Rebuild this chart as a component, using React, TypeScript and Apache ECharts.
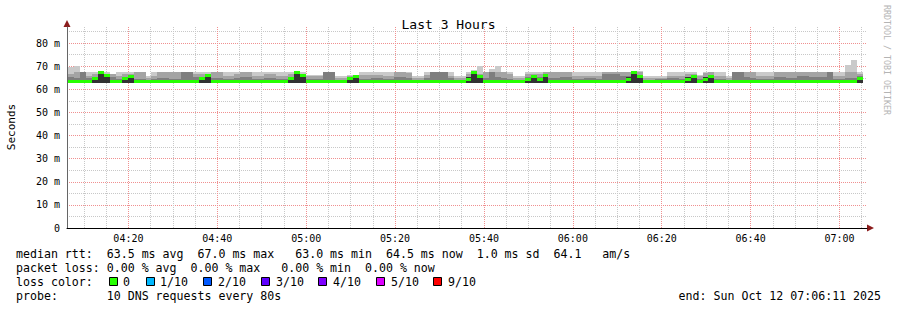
import React, { useEffect, useRef } from 'react';
import * as echarts from 'echarts';

// time window (seconds since midnight): 04:06:11 .. 07:06:11
const START = 4 * 3600 + 6 * 60 + 11;
const END = START + 3 * 3600;
const STEP = 80; // probe step
const FIRST = START + 20; // first sample start
const SMOKE_LO = 62.9; // ms, bottom of the smoke

const majorTimeLabels = ['04:20', '04:40', '05:00', '05:20', '05:40', '06:00', '06:20', '06:40', '07:00'];
const minorTimeLabels = ['04:10', '04:15', '04:25', '04:30', '04:35', '04:45', '04:50', '04:55', '05:05', '05:10', '05:15', '05:25', '05:30', '05:35', '05:45', '05:50', '05:55', '06:05', '06:10', '06:15', '06:25', '06:30', '06:35', '06:45', '06:50', '06:55', '07:05'];
const yMajor = [0, 10, 20, 30, 40, 50, 60, 70, 80];
const yMinor = [5, 15, 25, 35, 45, 55, 65, 75, 85];

// median rtt (ms) per step
const median = [
  63.6, 63.6, 63.6, 63.6, 64.6, 67.2, 65.9, 63.6, 63.6, 64.6,
  65.5, 63.6, 63.6, 63.6, 63.6, 63.6, 63.6, 63.6, 63.6, 63.6,
  63.6, 63.6, 64.6, 65.9, 63.6, 63.6, 63.6, 63.6, 63.6, 63.6,
  63.6, 63.6, 63.6, 63.6, 63.6, 63.6, 63.6, 64.6, 67.2, 65.9,
  63.6, 63.6, 63.6, 63.6, 63.6, 63.6, 63.6, 64.6, 65.5, 63.6,
  63.6, 63.6, 63.6, 63.6, 63.6, 63.6, 63.6, 63.6, 63.6, 63.6,
  63.6, 63.6, 63.6, 63.6, 63.6, 63.6, 63.6, 64.4, 67.2, 65.5,
  63.6, 63.6, 63.6, 63.6, 63.6, 63.6, 63.6, 64.4, 65.5, 64.4,
  65.9, 63.6, 63.6, 63.6, 63.6, 63.6, 63.6, 63.6, 63.6, 63.6,
  63.6, 63.6, 63.6, 63.6, 64.4, 67.2, 65.5, 63.6, 63.6, 63.6,
  63.6, 63.6, 63.6, 63.6, 64.4, 65.5, 63.6, 64.4, 65.5, 63.6,
  63.6, 63.6, 63.6, 63.6, 63.6, 63.6, 63.6, 63.6, 63.6, 63.6,
  63.6, 63.6, 63.6, 63.6, 63.6, 63.6, 63.6, 63.6, 63.6, 63.6,
  63.6, 63.6, 63.6, 64.6,
];

// outer smoke (max ping)
const smokeMax = [
  69.6, 70.3, 67.5, 67.5, 67.5, 67.5, 67.5, 66.5, 67.5, 67.5,
  67.5, 67.5, 67.5, 65.8, 67.5, 67.5, 67.5, 67.5, 67.5, 67.5,
  67.5, 67.5, 67.5, 67.5, 67.5, 67.5, 67.5, 67.5, 67.5, 67.5,
  67.5, 67.5, 67.5, 67.5, 67.5, 67.5, 67.5, 67.5, 67.5, 67.5,
  66.3, 66.3, 66.3, 67.5, 67.5, 65.8, 65.8, 66.3, 66.3, 67.5,
  67.5, 67.5, 67.5, 67.5, 67.5, 67.5, 67.5, 67.5, 65.8, 65.8,
  67.5, 67.5, 67.5, 67.5, 67.5, 65.8, 65.8, 67.5, 68.5, 70.3,
  67.5, 69.0, 70.3, 67.5, 67.5, 65.8, 65.8, 67.5, 67.5, 67.5,
  67.5, 67.5, 67.5, 67.5, 67.5, 67.5, 67.5, 67.5, 67.5, 67.5,
  67.5, 67.5, 67.5, 67.5, 67.5, 68.0, 68.0, 65.8, 65.8, 65.8,
  65.8, 67.5, 67.5, 67.5, 67.5, 67.5, 66.3, 67.5, 67.5, 67.5,
  67.5, 65.8, 67.5, 67.5, 67.5, 67.5, 67.5, 67.5, 67.5, 67.5,
  67.5, 67.5, 67.5, 67.5, 67.5, 67.5, 67.5, 67.5, 67.5, 67.5,
  67.5, 70.5, 72.8, 67.5,
];

// second smoke layer
const smoke2 = [
  66.5, 67.5, 67.5, 66, 66.5, 66.5, 66.5, 66.5, 66, 66.5,
  66.5, 67.5, 67.5, 65, 66, 67.5, 67.5, 67.5, 67.5, 67.5,
  67.5, 66.5, 66.5, 66.5, 67.5, 67.5, 66, 66, 66.5, 67.5,
  67.5, 66, 66, 66.5, 66.5, 66, 66, 66.5, 66.5, 66.5,
  65.7, 65.7, 65.7, 67.5, 67.5, 65, 65, 65.7, 65.7, 66.3,
  66.3, 66.3, 66.3, 66, 66, 67.5, 67.5, 67, 65, 65,
  66.3, 67.5, 67.5, 67.5, 66, 65, 65, 66.5, 66.5, 66.5,
  67.5, 67.5, 67.5, 67.5, 66.5, 65, 65, 66.5, 66.5, 66.5,
  67.5, 67.5, 67.5, 67.5, 67.5, 66, 66, 66, 66, 66,
  67.5, 67.5, 67.5, 67.5, 67.5, 66.5, 67.5, 65, 65, 65,
  65, 66, 66, 66, 66.5, 66.5, 65.7, 67, 67.5, 66,
  66, 65, 67.5, 67.5, 67.5, 67.5, 66, 66, 66, 67.5,
  67.5, 67.5, 67.5, 67.5, 67.5, 67.5, 67.5, 67.5, 67.5, 66,
  66, 67.5, 67.5, 66.5,
];

// third smoke layer
const smoke3 = [
  65.5, 65, 67.5, 65, 65.5, 65.5, 65.5, 65.5, 64.5, 65,
  65, 64.5, 64.5, 64, 64.5, 65, 65, 64.5, 64.5, 67.5,
  67.5, 65.5, 65.5, 65.5, 65, 65, 64.5, 64.5, 65, 65.5,
  65.5, 64.5, 64.5, 65, 65, 64.5, 64.5, 65.5, 65.5, 65.5,
  64.5, 64.5, 64.5, 67.5, 67.5, 64, 64, 65, 65, 64.5,
  64.5, 65, 65, 64.5, 64.5, 65.5, 65.5, 65, 64, 64,
  65, 67.5, 67.5, 67.5, 65, 64, 64, 65.5, 66, 66,
  65, 67.5, 65.5, 65, 64.5, 64, 64, 65.5, 65.5, 65.5,
  65.5, 65, 65, 65.5, 65.5, 64.5, 64.5, 65, 65, 64.5,
  66.5, 66.5, 66.5, 66, 66, 66, 66, 64, 64, 64.5,
  64.5, 65, 65, 64.5, 65.5, 65.5, 64.5, 65.5, 65.5, 64.5,
  64.5, 64, 67.5, 67.5, 65.5, 65, 64.5, 64.5, 64.5, 65.5,
  65.5, 65, 65, 66, 66, 65.5, 65.5, 65.5, 67.5, 64.5,
  64.5, 65, 65, 66,
];

// dense core of the smoke (0 = none)
const smokeCore = [
  0, 0, 0, 0, 65.5, 66.5, 66.5, 0, 0, 65.5,
  65.5, 0, 0, 0, 0, 0, 0, 0, 0, 0,
  0, 0, 65, 65.5, 0, 0, 0, 0, 0, 0,
  0, 0, 0, 0, 0, 0, 0, 65.5, 66.5, 66.5,
  0, 0, 0, 0, 0, 0, 0, 65, 65.5, 0,
  0, 0, 0, 0, 0, 0, 0, 0, 0, 0,
  0, 0, 0, 0, 0, 0, 0, 65.5, 66.5, 66,
  0, 0, 0, 0, 0, 0, 0, 65, 65.5, 65,
  65.5, 0, 0, 0, 0, 0, 0, 0, 0, 0,
  0, 0, 0, 0, 65.5, 66.5, 66, 0, 0, 0,
  0, 0, 0, 0, 65.5, 66, 0, 65.5, 66, 0,
  0, 0, 0, 0, 0, 0, 0, 0, 0, 0,
  0, 0, 0, 0, 0, 0, 0, 0, 0, 0,
  0, 0, 0, 65,
];

const lossLabels = ['0', '1/10', '2/10', '3/10', '4/10', '5/10', '9/10'];
const lossColors = ['#26ff00', '#00b8ff', '#0059ff', '#5e00ff', '#7e00ff', '#dd00ff', '#ff0000'];

const statsLine1 = 'median rtt:  63.5 ms avg  67.0 ms max   63.0 ms min  64.5 ms now  1.0 ms sd  64.1   am/s';
const statsLine2 = 'packet loss: 0.00 % avg  0.00 % max   0.00 % min  0.00 % now';
const probeLine = 'probe:       10 DNS requests every 80s';
const endLine = 'end: Sun Oct 12 07:06:11 2025';

const MONO = '"DejaVu Sans Mono", monospace';

const toSec = (s: string) => {
  const [h, m] = s.split(':').map(Number);
  return h * 3600 + m * 60;
};
const fmtTime = (v: number) => {
  const h = Math.floor(v / 3600);
  const m = Math.round((v - h * 3600) / 60);
  return `${String(h).padStart(2, '0')}:${String(m).padStart(2, '0')}`;
};

export default function App() {
  const ref = useRef<HTMLDivElement>(null);
  useEffect(() => {
    if (!ref.current) return;
    const chart = echarts.init(ref.current, null, { renderer: 'svg' });
    const data = median.map((m, i) => [
      FIRST + i * STEP, SMOKE_LO, smokeMax[i], smoke2[i], smoke3[i], smokeCore[i], m,
    ]);
    const smokeColors = ['#cacaca', '#a4a4a4', '#7e7e7e', '#323232'];

    const legendFont = `11.6px ${MONO}`;
    const graphic: any[] = [
      { type: 'polygon', shape: { points: [[867, 224.5], [874, 228], [867, 231.5]] }, style: { fill: '#8b1c1c' }, silent: true },
      { type: 'polygon', shape: { points: [[63.5, 27], [67, 20], [70.5, 27]] }, style: { fill: '#8b1c1c' }, silent: true },
      { type: 'text', x: 11, y: 127, rotation: Math.PI / 2, style: { text: 'Seconds', font: `11px ${MONO}`, fill: '#000', align: 'center', verticalAlign: 'middle' }, silent: true },
      { type: 'text', x: 886.5, y: 5, rotation: -Math.PI / 2, style: { text: 'RRDTOOL / TOBI OETIKER', font: `8.3px ${MONO}`, fill: '#b4b4b4', align: 'left', verticalAlign: 'middle' }, silent: true },
      { type: 'text', x: 16, y: 254, style: { text: statsLine1, font: legendFont, fill: '#000', align: 'left', verticalAlign: 'middle' }, silent: true },
      { type: 'text', x: 16, y: 268, style: { text: statsLine2, font: legendFont, fill: '#000', align: 'left', verticalAlign: 'middle' }, silent: true },
      { type: 'text', x: 16, y: 282, style: { text: 'loss color:', font: legendFont, fill: '#000', align: 'left', verticalAlign: 'middle' }, silent: true },
      { type: 'text', x: 16, y: 296, style: { text: probeLine, font: legendFont, fill: '#000', align: 'left', verticalAlign: 'middle' }, silent: true },
      { type: 'text', x: 881, y: 296, style: { text: endLine, font: legendFont, fill: '#000', align: 'right', verticalAlign: 'middle' }, silent: true },
    ];
    const boxX = [109, 146, 203, 261, 318, 376, 433];
    const textX = [123, 160, 218, 276, 333, 391, 448];
    lossLabels.forEach((lab, i) => {
      graphic.push({ type: 'rect', shape: { x: boxX[i] + 0.5, y: 277.5, width: 8, height: 8 }, style: { fill: lossColors[i], stroke: '#000', lineWidth: 1 }, silent: true });
      graphic.push({ type: 'text', x: textX[i], y: 282, style: { text: lab, font: legendFont, fill: '#000', align: 'left', verticalAlign: 'middle' }, silent: true });
    });

    const majorX = majorTimeLabels.map(toSec);
    const minorX = minorTimeLabels.map(toSec);

    chart.setOption({
      animation: false,
      backgroundColor: '#ffffff',
      title: {
        text: 'Last 3 Hours', left: 'center', top: 13,
        textStyle: { fontFamily: MONO, fontSize: 13, fontWeight: 'normal', color: '#000' },
      },
      grid: { left: 67, right: 30, top: 27, bottom: 82, containLabel: false, outerBoundsMode: 'none' },
      xAxis: [
        {
          type: 'value', min: START, max: END, position: 'bottom',
          axisLine: { show: true, lineStyle: { color: '#000', width: 1 } },
          axisTick: { show: false, customValues: majorX },
          axisLabel: { show: true, customValues: majorX, formatter: (v: number) => fmtTime(v), fontFamily: MONO, fontSize: 10, color: '#000', margin: 5 },
          splitLine: { show: true, lineStyle: { color: '#f09090', type: [1, 1], width: 1 } },
        },
        {
          type: 'value', min: START, max: END, position: 'bottom', offset: 0,
          axisLine: { show: false }, axisLabel: { show: false },
          axisTick: { show: false, customValues: minorX },
          splitLine: { show: true, lineStyle: { color: '#c8c8c8', type: [1, 1], width: 1 } },
        },
      ],
      yAxis: [
        {
          type: 'value', min: 0, max: 87,
          axisLine: { show: true, lineStyle: { color: '#666', width: 1 } },
          axisTick: { show: false, customValues: yMajor },
          axisLabel: { show: true, customValues: yMajor, formatter: (v: number) => (v === 0 ? '0' : `${v} m`), fontFamily: MONO, fontSize: 10, color: '#000', margin: 7 },
          splitLine: { show: true, lineStyle: { color: '#f09090', type: [1, 1], width: 1 } },
        },
        {
          type: 'value', min: 0, max: 87, position: 'left', offset: 0,
          axisLine: { show: false }, axisLabel: { show: false },
          axisTick: { show: false, customValues: yMinor },
          splitLine: { show: true, lineStyle: { color: '#c8c8c8', type: [1, 1], width: 1 } },
        },
      ],
      series: [
        {
          type: 'custom', xAxisIndex: 0, yAxisIndex: 0, silent: true,
          encode: { x: 0, y: 1 },
          data,
          renderItem: (params: any, api: any) => {
            const t = api.value(0);
            const xa = Math.round(api.coord([t, 0])[0]);
            const xb = Math.round(api.coord([t + STEP, 0])[0]);
            const w = xb - xa;
            const Y = (v: number) => api.coord([t, v])[1];
            const lo = api.value(1);
            const yLo = Math.round(Y(lo));
            const children: any[] = [];
            [2, 3, 4, 5].forEach((dim, k) => {
              const v = api.value(dim);
              if (v > lo) {
                const yt = Math.round(Y(v));
                children.push({ type: 'rect', shape: { x: xa, y: yt, width: w, height: yLo - yt }, style: { fill: smokeColors[k] } });
              }
            });
            const ym = Math.round(Y(api.value(6)) - 1.5);
            children.push({ type: 'rect', shape: { x: xa, y: ym, width: w, height: 3 }, style: { fill: '#26ff00' } });
            return { type: 'group', children };
          },
        },
      ],
      graphic,
    });
    return () => chart.dispose();
  }, []);
  return (
    <div
      ref={ref}
      style={{ position: 'fixed', left: 0, top: 0, width: 897, height: 310, background: '#fff' }}
    />
  );
}
